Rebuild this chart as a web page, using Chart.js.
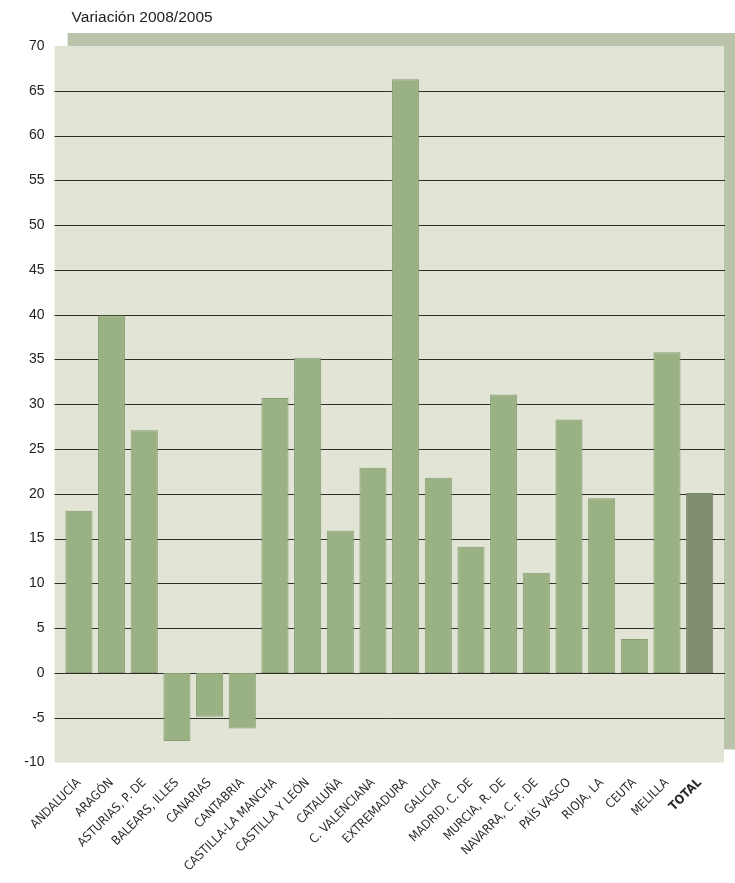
<!DOCTYPE html>
<html>
<head>
<meta charset="utf-8">
<script src="https://cdn.jsdelivr.net/npm/chart.js@4/dist/chart.umd.min.js"></script>
<style>
  html, body { margin:0; padding:0; background:#fff; }
  #wrap { width:735px; height:883px; position:relative; }
</style>
</head>
<body>
<div id="wrap"><canvas id="chart" width="735" height="883"></canvas></div>
<script>
// Data
const regions = ['ANDALUCÍA','ARAGÓN','ASTURIAS, P. DE','BALEARS, ILLES','CANARIAS','CANTABRIA',
  'CASTILLA-LA MANCHA','CASTILLA Y LEÓN','CATALUÑA','C. VALENCIANA','EXTREMADURA','GALICIA',
  'MADRID, C. DE','MURCIA, R. DE','NAVARRA, C. F. DE','PAÍS VASCO','RIOJA, LA','CEUTA','MELILLA','TOTAL'];
const variation = [18.1, 39.9, 27.1, -7.6, -4.9, -6.2, 30.7, 35.2, 15.9, 22.9, 66.3, 21.8,
  14.1, 31.1, 11.2, 28.3, 19.5, 3.8, 35.8, 20.1];
const yMin = -10, yMax = 70, yStep = 5;
const titleText = 'Variación 2008/2005';

const LABEL_FONT = "'DejaVu Sans Condensed', 'Liberation Sans', Arial, sans-serif";
const TICK_FONT = "'Liberation Sans', Arial, sans-serif";

// Background panel, shadow, gridlines and title
const panelPlugin = {
  id: 'panel',
  beforeDraw(chart){
    const {ctx, chartArea:a, scales:{y}} = chart;
    const padL = 8, padR = 8, sh = 13;
    ctx.save();
    ctx.fillStyle = '#b9c4aa';
    ctx.fillRect(a.left - padL + sh, a.top - sh, (a.right + padR) - (a.left - padL), a.bottom - a.top);
    ctx.fillStyle = '#e2e5d5';
    ctx.fillRect(a.left - padL, a.top, (a.right + padR) - (a.left - padL), a.bottom - a.top);
    // gridlines
    ctx.strokeStyle = '#2e2e28';
    ctx.lineWidth = 1;
    y.ticks.forEach(t => {
      if (t.value === yMin || t.value === yMax) return;
      const py = Math.round(y.getPixelForValue(t.value)) + 0.5;
      ctx.beginPath();
      ctx.moveTo(a.left - padL, py);
      ctx.lineTo(a.right + padR + 1, py);
      ctx.stroke();
    });
    // title
    ctx.fillStyle = '#222';
    ctx.font = "15.5px " + TICK_FONT;
    ctx.textBaseline = 'middle';
    ctx.fillText(titleText, a.left + 9, 18);
    ctx.restore();
  }
};

new Chart(document.getElementById('chart'), {
  type: 'bar',
  data: {
    labels: regions,
    datasets: [{
      data: variation,
      backgroundColor: regions.map(r => r === 'TOTAL' ? '#818d6f' : '#9ab184'),
      borderColor: regions.map(r => r === 'TOTAL' ? '#7a876a' : '#879d72'),
      borderWidth: 1,
      borderSkipped: false,
      categoryPercentage: 1,
      barPercentage: 0.83
    }]
  },
  options: {
    responsive: false,
    animation: false,
    layout: { padding: { top: 46, right: 19, left: 0, bottom: 0 } },
    plugins: { legend: { display: false }, tooltip: { enabled: false } },
    scales: {
      x: {
        grid: { display: false, drawTicks: false },
        border: { display: false },
        ticks: {
          minRotation: 45, maxRotation: 45,
          autoSkip: false,
          padding: 13,
          color: '#2a2a2a',
          font: (c) => ({ family: LABEL_FONT, size: 12.5, weight: c.index === regions.length - 1 ? 'bold' : 'normal' })
        },
        afterFit(s){ s.height = 120.5; }
      },
      y: {
        min: yMin, max: yMax,
        grid: { display: false, drawTicks: false },
        border: { display: false },
        ticks: { stepSize: yStep, padding: 18, color: '#222', font: { family: TICK_FONT, size: 14 } },
        afterFit(s){ s.width = 62.6; }
      }
    }
  },
  plugins: [panelPlugin]
});
</script>
</body>
</html>
